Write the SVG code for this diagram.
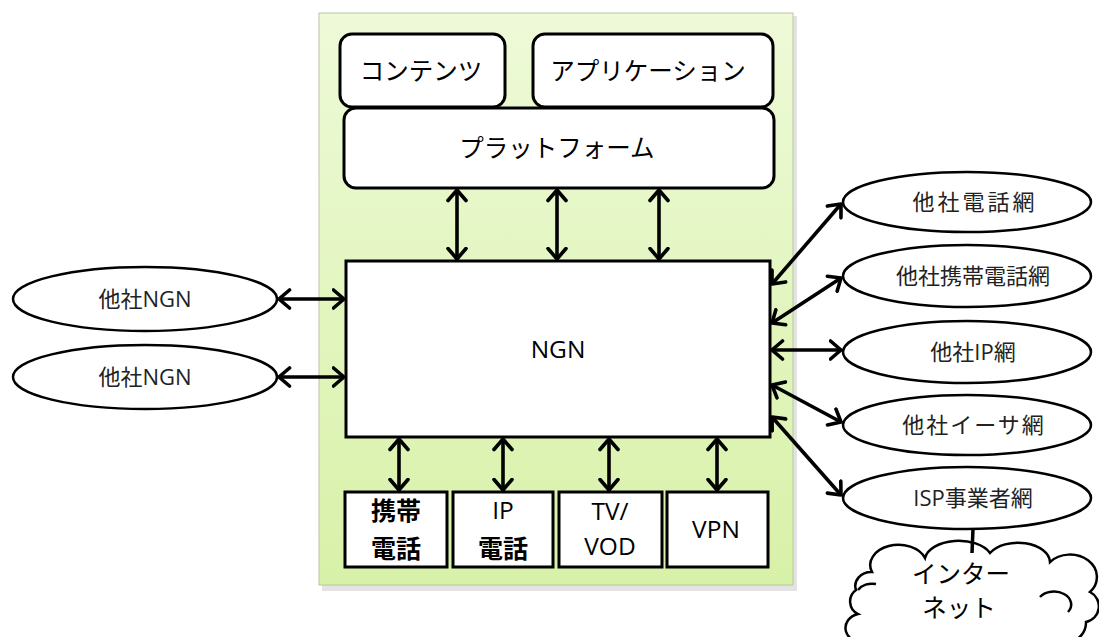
<svg xmlns="http://www.w3.org/2000/svg" width="1099" height="637" viewBox="0 0 1099 637">
  <style>
    .box { fill: #ffffff; stroke: #000000; stroke-width: 3; }
    .oval { fill: #ffffff; stroke: #000000; stroke-width: 2.5; }
    .jp { font-family: "Noto Sans CJK JP", "Noto Sans", sans-serif; font-size: 24.5px; fill: #000000; text-anchor: middle; }
    .lat { font-family: "Open Sans", "Noto Sans", sans-serif; }
    .small { font-size: 22px; fill: #222222; }
    .bold { font-weight: 700; font-size: 25px; }
    .link { stroke: #000000; stroke-width: 3.6; fill: none; marker-start: url(#head); marker-end: url(#head); }
  </style>
  <defs>
    <linearGradient id="panelFill" x1="0" y1="0" x2="0" y2="1">
      <stop offset="0" stop-color="#eefad8"/>
      <stop offset="1" stop-color="#d8f1a8"/>
    </linearGradient>
    <marker id="head" viewBox="0 0 14 22" refX="12.5" refY="11" markerWidth="14" markerHeight="22" markerUnits="userSpaceOnUse" orient="auto-start-reverse">
      <path d="M2,2 L12.5,11 L2,20" fill="none" stroke="#000000" stroke-width="3.6" stroke-linecap="round" stroke-linejoin="round"/>
    </marker>
  </defs>

  <!-- service platform panel -->
  <g id="panel">
    <rect x="322" y="16" width="475" height="575" fill="#d0d0d0" opacity="0.6"/>
    <rect x="319" y="13" width="474" height="572" fill="url(#panelFill)" stroke="#b8c8a0" stroke-width="1"/>
  </g>

  <g id="contents">
    <rect class="box" x="340" y="34" width="165" height="73" rx="12"/>
    <text class="jp" x="421" y="80">コンテンツ</text>
  </g>
  <g id="application">
    <rect class="box" x="533" y="34" width="240" height="73" rx="12"/>
    <text class="jp" x="648" y="80">アプリケーション</text>
  </g>
  <g id="platform">
    <rect class="box" x="344" y="108" width="430" height="80" rx="12"/>
    <text class="jp" x="557" y="157">プラットフォーム</text>
  </g>

  <g id="ngn">
    <rect class="box" x="346" y="261" width="424" height="176"/>
    <text class="jp lat" x="558" y="358" font-size="23">NGN</text>
  </g>

  <g id="mobile-phone">
    <rect class="box" x="345" y="492" width="102" height="75"/>
    <text class="jp bold" x="396" y="520">携帯</text>
    <text class="jp bold" x="396" y="558">電話</text>
  </g>
  <g id="ip-phone">
    <rect class="box" x="453" y="492" width="100" height="75"/>
    <text class="jp lat" x="503" y="519" font-size="23">IP</text>
    <text class="jp bold" x="503" y="558">電話</text>
  </g>
  <g id="tv-vod">
    <rect class="box" x="559" y="492" width="103" height="75"/>
    <text class="jp lat" x="610" y="520" font-size="23">TV/</text>
    <text class="jp lat" x="610" y="555" font-size="23">VOD</text>
  </g>
  <g id="vpn">
    <rect class="box" x="667" y="492" width="101" height="75"/>
    <text class="jp lat" x="716" y="538" font-size="23">VPN</text>
  </g>

  <g id="other-ngn-1">
    <ellipse class="oval" cx="145" cy="299" rx="132" ry="32"/>
    <text class="jp small" x="145" y="307">他社<tspan class="lat">NGN</tspan></text>
  </g>
  <g id="other-ngn-2">
    <ellipse class="oval" cx="145" cy="377" rx="132" ry="32"/>
    <text class="jp small" x="145" y="385">他社<tspan class="lat">NGN</tspan></text>
  </g>

  <g id="other-telephone">
    <ellipse class="oval" cx="967" cy="202" rx="124" ry="30"/>
    <text class="jp small" x="975" y="210" letter-spacing="3">他社電話網</text>
  </g>
  <g id="other-mobile">
    <ellipse class="oval" cx="967" cy="276" rx="124" ry="31"/>
    <text class="jp small" x="973" y="284">他社携帯電話網</text>
  </g>
  <g id="other-ip">
    <ellipse class="oval" cx="967" cy="352" rx="124" ry="31"/>
    <text class="jp small" x="973" y="360">他社<tspan class="lat">IP</tspan>網</text>
  </g>
  <g id="other-ether">
    <ellipse class="oval" cx="967" cy="425" rx="124" ry="30"/>
    <text class="jp small" x="974" y="433" letter-spacing="2">他社イーサ網</text>
  </g>
  <g id="isp">
    <ellipse class="oval" cx="967" cy="498" rx="124" ry="31"/>
    <text class="jp small" x="973" y="506"><tspan class="lat">ISP</tspan>事業者網</text>
  </g>

  <g id="internet">
    <path class="oval" d="M872,572 A28,20 0 0 1 925,558 A34,20 0 0 1 990,553 A32,20 0 0 1 1050,562 A24,20 0 0 1 1090,592 A16,16 0 0 1 1086,622 A20,20 0 0 1 1070,642 L866,642 A16,14 0 0 1 858,614 A14,14 0 0 1 856,590 A16,14 0 0 1 872,572 Z"/>
    <path d="M1040,597 A16,12 0 0 1 1068,612" fill="none" stroke="#000" stroke-width="2.5"/>
    <path d="M858,590 A16,12 0 0 1 876,584" fill="none" stroke="#000" stroke-width="2.5"/>
    <text class="jp" x="961" y="583">インター</text>
    <text class="jp" x="959" y="617">ネット</text>
  </g>

  <g id="connectors">
    <line class="link" x1="457" y1="190" x2="457" y2="259"/>
    <line class="link" x1="557" y1="190" x2="557" y2="259"/>
    <line class="link" x1="659" y1="190" x2="659" y2="259"/>

    <line class="link" x1="399" y1="439" x2="399" y2="490"/>
    <line class="link" x1="503" y1="439" x2="503" y2="490"/>
    <line class="link" x1="609" y1="439" x2="609" y2="490"/>
    <line class="link" x1="717" y1="439" x2="717" y2="490"/>

    <line class="link" x1="279" y1="299" x2="344" y2="299"/>
    <line class="link" x1="279" y1="377" x2="344" y2="377"/>

    <line class="link" x1="772" y1="284" x2="841" y2="204"/>
    <line class="link" x1="772" y1="323" x2="841" y2="278"/>
    <line class="link" x1="772" y1="350" x2="841" y2="350"/>
    <line class="link" x1="772" y1="385" x2="841" y2="422"/>
    <line class="link" x1="772" y1="417" x2="841" y2="495"/>

    <line x1="973" y1="529" x2="972" y2="553" stroke="#000" stroke-width="3.5"/>
  </g>
</svg>
